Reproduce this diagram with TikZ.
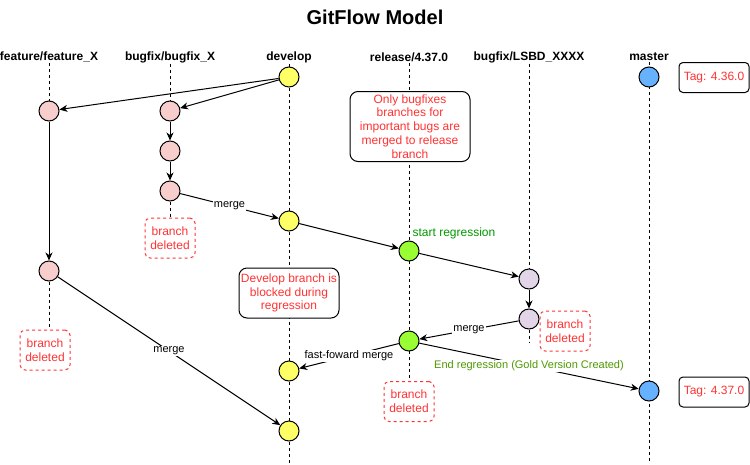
\documentclass[tikz,border=0pt]{standalone}
\usepackage{fontspec}
\setmainfont{Liberation Sans}
\usetikzlibrary{arrows.meta}
\definecolor{cpink}{HTML}{F8CECC}
\definecolor{cyellow}{HTML}{FFFF66}
\definecolor{cblue}{HTML}{66B2FF}
\definecolor{cgreen}{HTML}{99FF33}
\definecolor{cpurple}{HTML}{E1D5E7}
\definecolor{cred}{HTML}{FF3333}
\definecolor{cdkgreen}{HTML}{009900}
\definecolor{colive}{HTML}{4D9900}
\pgfdeclarelayer{bg}
\pgfsetlayers{bg,main}
\tikzset{
  commit/.style={circle, draw=black, line width=1pt, minimum size=20pt, inner sep=0pt},
  hdr/.style={font=\fontsize{12}{14}\selectfont\bfseries, inner sep=1pt},
  life/.style={draw=black, line width=1pt, dash pattern=on 3pt off 3pt},
  conn/.style={draw=black, line width=1pt, -{Stealth[length=8pt,width=7pt,inset=2.5pt]}},
  elabel/.style={fill=white, inner sep=1pt, font=\fontsize{11}{13}\selectfont},
  note/.style={draw=black, line width=1pt, rounded corners=8pt, fill=white, text=cred, align=center, inner sep=0pt, font=\fontsize{12}{13.8}\selectfont},
  deleted/.style={draw=cred, line width=1pt, dash pattern=on 3pt off 3pt, rounded corners=5pt, fill=white, text=cred, align=center, inner sep=0pt, minimum width=50pt, minimum height=40pt, font=\fontsize{12}{14}\selectfont},
  tagbox/.style={draw=black, line width=1pt, rounded corners=4pt, fill=white, text=cred, inner sep=0pt, minimum width=70pt, minimum height=30pt, font=\fontsize{12}{14}\selectfont}
}
\begin{document}
\begin{tikzpicture}[x=1pt, y=-1pt]
\useasboundingbox (0,0) rectangle (750,464);

\node[font=\fontsize{20}{24}\selectfont\bfseries] (title) at (375,17) {GitFlow Model};

% headers
\node[hdr] (hfeat) at (49,57) {feature/feature\_X};
\node[hdr] (hbug) at (170,57) {bugfix/bugfix\_X};
\node[hdr] (hdev) at (289,57) {develop};
\node[hdr] (hrel) at (409,57) {release/4.37.0};
\node[hdr] (hlsbd) at (529,57) {bugfix/LSBD\_XXXX};
\node[hdr] (hmas) at (649,57) {master};

% commits
\node[commit, fill=cyellow] (d1) at (289,77) {};
\node[commit, fill=cblue] (m1) at (649,77) {};
\node[commit, fill=cpink] (f1) at (49,111) {};
\node[commit, fill=cpink] (b1) at (170,111) {};
\node[commit, fill=cpink] (b2) at (170,151) {};
\node[commit, fill=cpink] (b3) at (170,191) {};
\node[commit, fill=cyellow] (d2) at (289,221) {};
\node[commit, fill=cgreen] (r1) at (409,251) {};
\node[commit, fill=cpink] (f2) at (49,271) {};
\node[commit, fill=cpurple] (l1) at (529,279) {};
\node[commit, fill=cpurple] (l2) at (529,319) {};
\node[commit, fill=cgreen] (r2) at (409,341) {};
\node[commit, fill=cyellow] (d3) at (289,371) {};
\node[commit, fill=cblue] (m2) at (649,391) {};
\node[commit, fill=cyellow] (d4) at (289,431) {};

% notes
\node[tagbox] (tag1) at (714,77.5) {Tag: 4.36.0};
\node[tagbox] (tag2) at (714,392) {Tag: 4.37.0};
\node[note, minimum width=120pt, minimum height=70pt] (relnote) at (410,126.5)
  {Only bugfixes\\branches for\\important bugs are\\merged to release\\branch};
\node[note, minimum width=100pt, minimum height=50pt] (devnote) at (289,293)
  {Develop branch is\\blocked during\\regression};
\node[deleted] (bdel) at (170,238) {branch\\deleted};
\node[deleted] (fdel) at (45,350) {branch\\deleted};
\node[deleted] (rdel) at (409,401.5) {branch\\deleted};
\node[deleted] (ldel) at (565,331) {branch\\deleted};

\node[text=cdkgreen, font=\fontsize{12}{14}\selectfont, inner sep=0pt] (startreg) at (454,233) {start regression};

% end coordinates of lifelines
\coordinate (devend) at (289,464);
\coordinate (masend) at (649,464);
\coordinate (lsend) at (529,342);

% lifelines
\begin{pgfonlayer}{bg}
  \draw[life] (hfeat.south) -- (f1);
  \draw[life] (f2) -- (f2 |- fdel.north);
  \draw[life] (hbug.south) -- (b1);
  \draw[life] (b3) -- (bdel.north);
  \draw[life] (hdev.south) -- (devend);
  \draw[life] (hrel.south) -- (rdel.north);
  \draw[life] (hlsbd.south) -- (l1);
  \draw[life] (l2) -- (lsend);
  \draw[life] (hmas.south) -- (masend);
\end{pgfonlayer}

% connectors
\draw[conn] (d1) -- (f1);
\draw[conn] (d1) -- (b1);
\draw[conn] (b1) -- (b2);
\draw[conn] (b2) -- (b3);
\draw[conn] (f1) -- (f2);
\draw[conn] (b3) -- node[elabel] {merge} (d2);
\draw[conn] (d2) -- (r1);
\draw[conn] (r1) -- (l1);
\draw[conn] (l1) -- (l2);
\draw[conn] (l2) -- node[elabel] {merge} (r2);
\draw[conn] (r2) -- node[elabel] {fast-foward merge} (d3);
\draw[conn] (r2) -- node[elabel, text=colive] {End regression (Gold Version Created)} (m2);
\draw[conn] (f2) -- node[elabel] {merge} (d4);
\end{tikzpicture}
\end{document}
